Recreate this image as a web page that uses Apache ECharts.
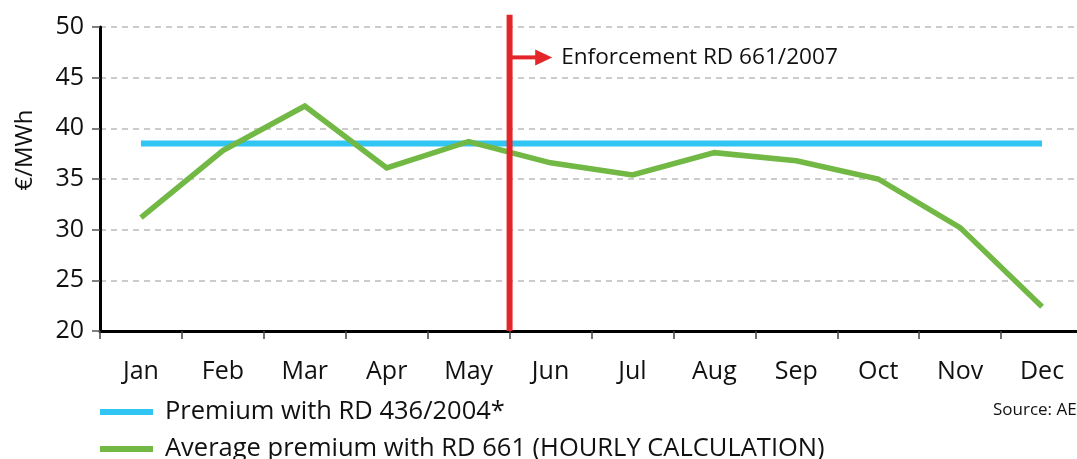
<!DOCTYPE html>
<html>
<head>
<meta charset="utf-8">
<script src="https://cdn.jsdelivr.net/npm/echarts@6/dist/echarts.min.js"></script>
<style>
  html, body { margin: 0; padding: 0; background: #fff; }
  #chart { width: 1077px; height: 459px; }
</style>
</head>
<body>
<div id="chart"></div>
<script>
// Monthly premium (€/MWh) under the two regulatory regimes
const months = ['Jan', 'Feb', 'Mar', 'Apr', 'May', 'Jun', 'Jul', 'Aug', 'Sep', 'Oct', 'Nov', 'Dec'];
const premiumRD436 = [38.5, 38.5, 38.5, 38.5, 38.5, 38.5, 38.5, 38.5, 38.5, 38.5, 38.5, 38.5];
const premiumRD661Hourly = [31.2, 37.8, 42.2, 36.1, 38.7, 36.6, 35.4, 37.6, 36.8, 35.0, 30.2, 22.4];
const yTicks = [20, 25, 30, 35, 40, 45, 50];

// Enforcement marker: month boundary (0 = start of Jan), vertical span and arrow
const enforcement = {
  boundary: 5,          // start of June
  from: 20,
  to: 51.2,
  arrowLevel: 47.0,
  arrowTo: 5.52,
  label: 'Enforcement RD 661/2007'
};

const seriesNames = ['Premium with RD 436/2004*', 'Average premium with RD 661 (HOURLY CALCULATION)'];
const FONT = '"Open Sans", "Noto Sans", sans-serif';
const RED = '#e4262a';
const BLUE = '#30c5f3';
const GREEN = '#72b844';

const legendText = { fontFamily: FONT, fontSize: 25.5, color: '#111', padding: [0, 0, 0, 7] };
function legendRow(name, top) {
  return {
    orient: 'vertical',
    left: 100,
    top: top,
    padding: 0,
    icon: 'rect',
    itemWidth: 53,
    itemHeight: 6,
    textStyle: legendText,
    data: [name]
  };
}

const chart = echarts.init(document.getElementById('chart'), null, { renderer: 'canvas' });

chart.setOption({
  animation: false,
  backgroundColor: '#ffffff',
  textStyle: { fontFamily: FONT, color: '#111' },
  grid: { left: 100, top: 27, width: 983, height: 304, containLabel: false, outerBoundsMode: 'none' },
  legend: [legendRow(seriesNames[0], 399), legendRow(seriesNames[1], 436)],
  xAxis: [
    {
      type: 'category',
      data: months,
      boundaryGap: true,
      axisLine: { lineStyle: { color: '#000', width: 3 } },
      axisTick: { show: true, length: 8, lineStyle: { color: '#444', width: 1.5 } },
      axisLabel: { fontFamily: FONT, fontSize: 25, color: '#111', margin: 28 },
      splitLine: { show: false }
    },
    {
      // helper scale for the enforcement marker (one unit per month)
      type: 'value',
      min: 0,
      max: 12,
      show: false
    }
  ],
  yAxis: {
    type: 'value',
    min: yTicks[0],
    max: yTicks[yTicks.length - 1],
    interval: 5,
    name: '€/MWh',
    nameLocation: 'middle',
    nameGap: 63,
    nameTextStyle: { fontFamily: FONT, fontSize: 24, color: '#111', padding: [0, 0, 0, 58] },
    axisLine: { show: true, lineStyle: { color: '#000', width: 3 } },
    axisTick: { show: true, length: 8, lineStyle: { color: '#555', width: 1.5 } },
    axisLabel: { fontFamily: FONT, fontSize: 25, color: '#111', margin: 16 },
    splitLine: { show: true, lineStyle: { color: '#bcbcbc', width: 1.5, type: [6, 5] } }
  },
  series: [
    {
      name: seriesNames[0],
      type: 'line',
      data: premiumRD436,
      symbol: 'none',
      lineStyle: { color: BLUE, width: 6 },
      itemStyle: { color: BLUE },
      z: 3
    },
    {
      name: seriesNames[1],
      type: 'line',
      data: premiumRD661Hourly,
      symbol: 'none',
      lineStyle: { color: GREEN, width: 5.5, join: 'miter' },
      itemStyle: { color: GREEN },
      z: 4
    },
    {
      type: 'custom',
      xAxisIndex: 1,
      yAxisIndex: 0,
      clip: false,
      silent: true,
      z: 10,
      data: [[enforcement.boundary, enforcement.from, enforcement.to, enforcement.arrowLevel, enforcement.arrowTo]],
      renderItem: function (params, api) {
        const bottom = api.coord([api.value(0), api.value(1)]);
        const top = api.coord([api.value(0), api.value(2)]);
        const start = api.coord([api.value(0), api.value(3)]);
        const tip = api.coord([api.value(4), api.value(3)]);
        const headLen = 17, headHalf = 8;
        return {
          type: 'group',
          children: [
            {
              type: 'line',
              shape: { x1: bottom[0], y1: bottom[1], x2: top[0], y2: top[1] },
              style: { stroke: RED, lineWidth: 6 }
            },
            {
              type: 'line',
              shape: { x1: start[0], y1: start[1], x2: tip[0] - headLen + 1, y2: tip[1] },
              style: { stroke: RED, lineWidth: 4 }
            },
            {
              type: 'polygon',
              shape: { points: [[tip[0], tip[1]], [tip[0] - headLen, tip[1] - headHalf], [tip[0] - headLen, tip[1] + headHalf]] },
              style: { fill: RED }
            },
            {
              type: 'text',
              x: tip[0] + 9,
              y: tip[1],
              style: {
                text: enforcement.label,
                fontFamily: FONT,
                fontSize: 22.6,
                fill: '#111',
                verticalAlign: 'middle',
                align: 'left'
              }
            }
          ]
        };
      }
    }
  ],
  graphic: [
    {
      type: 'text',
      left: 993,
      top: 402,
      style: { text: 'Source: AEE', fontFamily: FONT, fontSize: 17, fill: '#111' }
    }
  ]
});
</script>
</body>
</html>
